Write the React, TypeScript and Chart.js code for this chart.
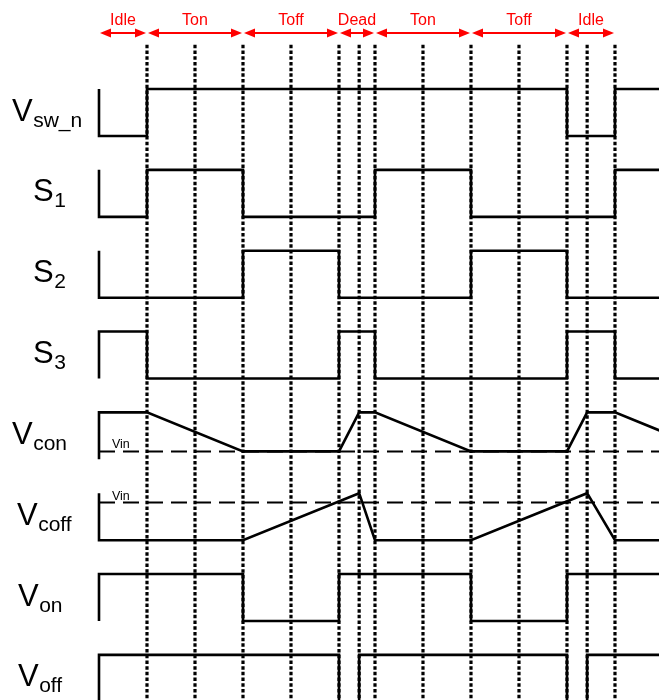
import React, { useEffect, useRef } from 'react';
import { Chart, registerables } from 'chart.js';

Chart.register(...registerables);

// ---- time axis (units: Ton = 2) ----
const X_MIN = -3.0625;
const X_MAX = 10.667;
const Y_MIN = -12.0;
const Y_MAX = 2.894;
const ROW_STEP = 1.72;

// event times (dotted vertical markers)
const gridTimes = [0, 1, 2, 3, 4, 4.42, 4.75, 5.75, 6.75, 7.75, 8.75, 9.17, 9.75];

// phases at the top
const phaseNames = ['Idle', 'Ton', 'Toff', 'Dead', 'Ton', 'Toff', 'Idle'];
const phaseStarts = [-1, 0, 2, 4, 4.75, 6.75, 8.75];
const phaseEnds = [0, 2, 4, 4.75, 6.75, 8.75, 9.75];

// signal names: [main, subscript]
const signalMain = ['V', 'S', 'S', 'S', 'V', 'V', 'V', 'V'];
const signalSub = ['sw_n', '1', '2', '3', 'con', 'coff', 'on', 'off'];

// Vin reference levels (within a row, 0 = low, 1 = high)
const vconVin = 0.17;
const vcoffVin = 0.8;

// waveforms: [time, level]
const vswN: [number, number][] = [[-1, 1], [-1, 0], [0, 0], [0, 1], [8.75, 1], [8.75, 0], [9.75, 0], [9.75, 1], [12, 1]];
const s1: [number, number][] = [[-1, 1], [-1, 0], [0, 0], [0, 1], [2, 1], [2, 0], [4.75, 0], [4.75, 1], [6.75, 1], [6.75, 0], [9.75, 0], [9.75, 1], [12, 1]];
const s2: [number, number][] = [[-1, 1], [-1, 0], [2, 0], [2, 1], [4, 1], [4, 0], [6.75, 0], [6.75, 1], [8.75, 1], [8.75, 0], [12, 0]];
const s3: [number, number][] = [[-1, 0], [-1, 1], [0, 1], [0, 0], [4, 0], [4, 1], [4.75, 1], [4.75, 0], [8.75, 0], [8.75, 1], [9.75, 1], [9.75, 0], [12, 0]];
const vcon: [number, number][] = [[-1, 0], [-1, 1], [0, 1], [2, 0.17], [4, 0.17], [4.42, 1], [4.75, 1], [6.75, 0.17], [8.75, 0.17], [9.17, 1], [9.75, 1], [11.75, 0.17]];
const vcoff: [number, number][] = [[-1, 1], [-1, 0], [2, 0], [4.42, 1], [4.75, 0], [6.75, 0], [9.17, 1], [9.75, 0], [12, 0]];
const von: [number, number][] = [[-1, 0], [-1, 1], [2, 1], [2, 0], [4, 0], [4, 1], [6.75, 1], [6.75, 0], [8.75, 0], [8.75, 1], [12, 1]];
const voff: [number, number][] = [[-1, 0], [-1, 1], [4, 1], [4, 0], [4.42, 0], [4.42, 1], [8.75, 1], [8.75, 0], [9.17, 0], [9.17, 1], [12, 1]];

const signals = [vswN, s1, s2, s3, vcon, vcoff, von, voff];

// layout for left labels (pixel left edge of each label)
const LABEL_LEFT = [12, 33, 33, 33, 12, 17, 18, 18];
const FONT = '"Liberation Sans", Arial, Helvetica, sans-serif';

const rowBase = (r: number) => -r * ROW_STEP;

const decorPlugin = {
  id: 'decor',
  afterDatasetsDraw(chart: any) {
    const ctx = chart.ctx as CanvasRenderingContext2D;
    const xs = chart.scales.x;
    const ys = chart.scales.y;
    ctx.save();

    // left labels
    ctx.fillStyle = '#000';
    ctx.textBaseline = 'alphabetic';
    ctx.textAlign = 'left';
    for (let r = 0; r < signalMain.length; r++) {
      const mid = ys.getPixelForValue(rowBase(r) + 0.5);
      const base = mid + 8;
      ctx.font = `31px ${FONT}`;
      const left = LABEL_LEFT[r];
      ctx.fillText(signalMain[r], left, base);
      const w = ctx.measureText(signalMain[r]).width;
      ctx.font = `21px ${FONT}`;
      ctx.fillText(signalSub[r], left + w + 0.5, base + 6);
    }

    // Vin labels
    ctx.font = `12.5px ${FONT}`;
    ctx.fillText('Vin', xs.getPixelForValue(-0.73), ys.getPixelForValue(rowBase(4) + vconVin) - 3);
    ctx.fillText('Vin', xs.getPixelForValue(-0.73), ys.getPixelForValue(rowBase(5) + vcoffVin) - 3);

    // phase arrows
    const ay = 33;
    const head = 11;
    const hh = 4.5;
    ctx.strokeStyle = '#ff0000';
    ctx.fillStyle = '#ff0000';
    ctx.lineWidth = 2;
    for (let i = 0; i < phaseNames.length; i++) {
      const x1 = xs.getPixelForValue(phaseStarts[i]) + 1;
      const x2 = xs.getPixelForValue(phaseEnds[i]) - 1;
      ctx.beginPath();
      ctx.moveTo(x1 + head - 1, ay);
      ctx.lineTo(x2 - head + 1, ay);
      ctx.stroke();
      ctx.beginPath();
      ctx.moveTo(x1, ay);
      ctx.lineTo(x1 + head, ay - hh);
      ctx.lineTo(x1 + head, ay + hh);
      ctx.closePath();
      ctx.fill();
      ctx.beginPath();
      ctx.moveTo(x2, ay);
      ctx.lineTo(x2 - head, ay - hh);
      ctx.lineTo(x2 - head, ay + hh);
      ctx.closePath();
      ctx.fill();
      ctx.font = `16px ${FONT}`;
      ctx.textAlign = 'center';
      ctx.fillText(phaseNames[i], (x1 + x2) / 2, 25);
    }
    ctx.restore();
  },
};

export default function App() {
  const ref = useRef<HTMLCanvasElement | null>(null);

  useEffect(() => {
    if (!ref.current) return;

    const gridData: any[] = [];
    gridTimes.forEach((t) => {
      gridData.push({ x: t, y: 1.94 }, { x: t, y: -12.5 }, { x: t, y: null });
    });

    const datasets: any[] = [
      {
        data: gridData,
        borderColor: '#000',
        borderWidth: 3.2,
        borderDash: [3.5, 2.2],
        spanGaps: false,
      },
      {
        data: [{ x: -1, y: rowBase(4) + vconVin }, { x: 12, y: rowBase(4) + vconVin }],
        borderColor: '#000',
        borderWidth: 2,
        borderDash: [16, 8],
      },
      {
        data: [{ x: -1, y: rowBase(5) + vcoffVin }, { x: 12, y: rowBase(5) + vcoffVin }],
        borderColor: '#000',
        borderWidth: 2,
        borderDash: [16, 8],
      },
      ...signals.map((sig, r) => ({
        data: sig.map(([t, l]) => ({ x: t, y: rowBase(r) + l })),
        borderColor: '#000',
        borderWidth: 2.6,
        borderJoinStyle: 'miter',
      })),
    ].map((d) => ({ ...d, showLine: true, pointRadius: 0, pointHoverRadius: 0, tension: 0, fill: false }));

    const chart = new Chart(ref.current, {
      type: 'scatter',
      data: { datasets },
      options: {
        animation: false,
        responsive: false,
        maintainAspectRatio: false,
        events: [],
        layout: { padding: 0 },
        plugins: { legend: { display: false }, tooltip: { enabled: false }, title: { display: false } },
        scales: {
          x: { type: 'linear', min: X_MIN, max: X_MAX, display: false },
          y: { type: 'linear', min: Y_MIN, max: Y_MAX, display: false },
        },
      },
      plugins: [decorPlugin],
    });
    return () => chart.destroy();
  }, []);

  return (
    <div style={{ position: 'absolute', left: 0, top: 0, width: 659, height: 700, background: '#fff' }}>
      <canvas ref={ref} width={659} height={700} style={{ display: 'block' }} />
    </div>
  );
}
